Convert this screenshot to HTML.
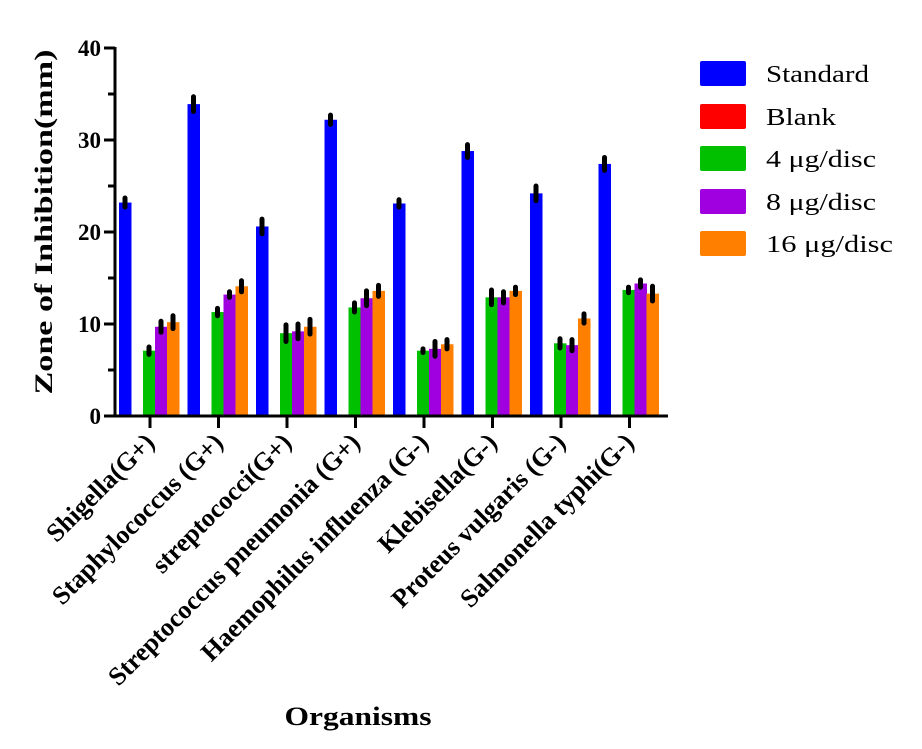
<!DOCTYPE html>
<html><head><meta charset="utf-8"><style>body{margin:0;background:#fff}svg{display:block}</style></head>
<body>
<svg id="s" width="922" height="749" xmlns="http://www.w3.org/2000/svg" font-family="Liberation Serif, serif">
<g id="g"></g>
<text transform="translate(52,222) rotate(-90)" text-anchor="middle" font-size="25" font-weight="bold" textLength="345" lengthAdjust="spacingAndGlyphs">Zone of Inhibition(mm)</text>
<text x="358" y="725" text-anchor="middle" font-size="26" font-weight="bold" textLength="147" lengthAdjust="spacingAndGlyphs">Organisms</text>
<g font-size="24">
<rect x="700" y="61" width="46" height="25" rx="2" fill="#0000ff"/><text x="766" y="82" textLength="103" lengthAdjust="spacingAndGlyphs">Standard</text>
<rect x="700" y="104" width="46" height="25" rx="2" fill="#ff0000"/><text x="766" y="125" textLength="70" lengthAdjust="spacingAndGlyphs">Blank</text>
<rect x="700" y="146" width="46" height="25" rx="2" fill="#00c000"/><text x="766" y="167" textLength="110" lengthAdjust="spacingAndGlyphs">4 μg/disc</text>
<rect x="700" y="189" width="46" height="25" rx="2" fill="#a000e0"/><text x="766" y="210" textLength="110" lengthAdjust="spacingAndGlyphs">8 μg/disc</text>
<rect x="700" y="231" width="46" height="25" rx="2" fill="#ff8000"/><text x="766" y="252" textLength="127" lengthAdjust="spacingAndGlyphs">16 μg/disc</text>
</g>
</svg>
<script>
var g=document.getElementById('g'),h='';
var y0=416,k=9.2;
var data=[[23.2,7.1,9.7,10.2],[33.9,11.3,13.2,14.1],[20.6,9.0,9.2,9.7],[32.2,11.8,12.8,13.6],[23.1,7.1,7.3,7.8],[28.8,12.9,12.9,13.6],[24.2,7.9,7.7,10.6],[27.4,13.7,14.4,13.3]];
var names=["Shigella(G+)","Staphylococcus (G+)","streptococci(G+)","Streptococcus pneumonia (G+)","Haemophilus influenza (G-)","Klebisella(G-)","Proteus vulgaris (G-)","Salmonella typhi(G-)"];
var cols=["#0000ff","#00c000","#a000e0","#ff8000"],offs=[-31,-7,5,17];
var err=[[0.5,0.4,0.6,0.7],[0.8,0.4,0.3,0.6],[0.8,0.9,0.8,0.8],[0.5,0.5,0.8,0.6],[0.4,0.2,0.8,0.5],[0.7,0.8,0.6,0.4],[0.8,0.5,0.6,0.5],[0.7,0.3,0.4,0.8]];
for(var i=0;i<8;i++){var c=150+i*68.5;
 for(var j=0;j<4;j++){var v=data[i][j],x=c+offs[j],y=y0-v*k;
  h+='<rect x="'+x+'" y="'+y+'" width="12.5" height="'+(v*k)+'" fill="'+cols[j]+'"/>';
  var e=err[i][j]*k;h+='<line x1="'+(x+6)+'" x2="'+(x+6)+'" y1="'+(y-e)+'" y2="'+(y+e)+'" stroke="#000" stroke-width="5" stroke-linecap="round"/>';}
 h+='<line x1="'+c+'" x2="'+c+'" y1="416" y2="428" stroke="#000" stroke-width="3"/>';
 h+='<text transform="translate('+(c+6)+',444) rotate(-45)" text-anchor="end" font-size="26" font-weight="bold">'+names[i]+'</text>';}
h+='<line x1="115" x2="668" y1="416" y2="416" stroke="#000" stroke-width="3"/>';
h+='<line x1="115" x2="115" y1="47" y2="417" stroke="#000" stroke-width="3"/>';
for(var t=0;t<=40;t+=5){var y=y0-t*k;
 h+='<line x1="'+(t%10?108:104)+'" x2="115" y1="'+y+'" y2="'+y+'" stroke="#000" stroke-width="3"/>';
 if(t%10==0)h+='<text x="101" y="'+(y+8)+'" text-anchor="end" font-size="23" font-weight="bold">'+t+'</text>';}
g.innerHTML=h;
</script>
</body></html>
